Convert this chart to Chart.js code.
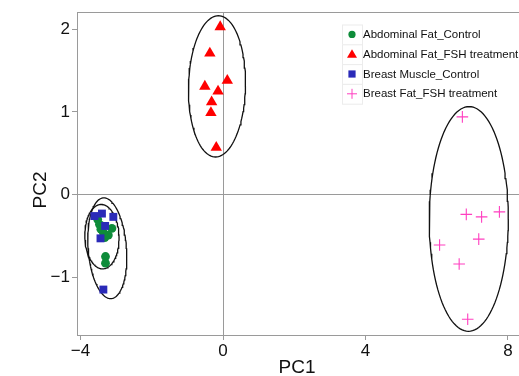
<!DOCTYPE html>
<html>
<head>
<meta charset="utf-8">
<script src="https://cdn.jsdelivr.net/npm/chart.js@4/dist/chart.umd.min.js"></script>
<style>
  html, body { margin:0; padding:0; background:#fff; }
  #wrap { width:519px; height:376px; }
</style>
</head>
<body>
<div id="wrap"><canvas id="pca" width="519" height="376"></canvas></div>
<script>
'use strict';
// ── PCA scatter: PC1 vs PC2 with group ellipses ─────────

const groupNames  = ['Abdominal Fat_Control', 'Abdominal Fat_FSH treatment', 'Breast Muscle_Control', 'Breast Fat_FSH treatment'];
const groupColors = ['#0e8c3a', '#ff0000', '#2a2ab8', '#ff3fc0'];
const groupShapes = ['circle', 'triangle', 'rect', 'cross'];

// points per group: [PC1, PC2]
const abdFatControl = [[-3.52,-0.30],[-3.47,-0.36],[-3.43,-0.42],[-3.36,-0.46],[-3.12,-0.41],[-3.22,-0.49],[-3.32,-0.52],[-3.30,-0.75],[-3.30,-0.83]];
const abdFatFSH     = [[-0.08,2.03],[-0.37,1.71],[0.12,1.38],[-0.51,1.31],[-0.14,1.25],[-0.32,1.12],[-0.34,0.99],[-0.19,0.57]];
const breastMuscle  = [[-3.61,-0.26],[-3.40,-0.23],[-3.08,-0.27],[-3.31,-0.38],[-3.44,-0.53],[-3.36,-1.15]];
const breastFatFSH  = [[6.72,0.94],[6.83,-0.24],[7.26,-0.27],[7.76,-0.21],[7.18,-0.54],[6.08,-0.61],[6.63,-0.84],[6.87,-1.51]];
const groupPoints   = [abdFatControl, abdFatFSH, breastMuscle, breastFatFSH];

// ellipse per group: centre, half-widths, skew of the long axis
const ellipseCenters = [[-3.40,-0.51],[-0.17,1.31],[-3.25,-0.65],[6.90,-0.295]];
const ellipseRadii   = [[0.48,0.39],[0.80,0.855],[0.54,0.61],[1.11,1.36]];
const ellipseSkew    = [0.02,-0.04,0.095,-0.01];

const xTicks = [-4, 0, 4, 8];
const yTicks = [-1, 0, 1, 2];
const xRange = [-4.10, 8.31];
const yRange = [-1.70, 2.21];

const FONT = "'Liberation Sans', Arial, sans-serif";
const AXIS_GREY = '#9a9a9a';

function ellipse(i) {
  const [cx, cy] = ellipseCenters[i], [rx, ry] = ellipseRadii[i], s = ellipseSkew[i];
  const pts = [];
  for (let k = 0; k <= 120; k++) {
    const t = k / 120 * Math.PI * 2;
    pts.push({ x: cx + rx * Math.cos(t) - s * Math.sin(t), y: cy + ry * Math.sin(t) });
  }
  return pts;
}

const pointSize = { circle:4.4, triangle:6.6, rect:5.6, cross:5.8 };

const datasets = [];
groupNames.forEach((name, i) => {
  datasets.push({
    label: name + ' ellipse', data: ellipse(i), showLine: true, pointRadius: 0,
    borderColor: '#111', borderWidth: 1.3, fill: false, tension: 0, order: 10,
  });
});
groupNames.forEach((name, i) => {
  const c = groupColors[i];
  datasets.push({
    label: name,
    data: groupPoints[i].map(([x, y]) => ({ x, y })),
    pointStyle: groupShapes[i],
    pointRadius: pointSize[groupShapes[i]],
    backgroundColor: c, borderColor: c,
    borderWidth: groupShapes[i] === 'cross' ? 1.1 : 0,
    order: 4 - i,
  });
});

// ── extras: top/bottom border to the edge, axis titles, legend ──
const extras = {
  id: 'extras',
  afterDraw(chart) {
    const { ctx, chartArea: a, width } = chart;
    ctx.save();
    ctx.strokeStyle = AXIS_GREY; ctx.lineWidth = 1;
    ctx.beginPath(); ctx.moveTo(a.left, a.top + 0.5); ctx.lineTo(width, a.top + 0.5); ctx.stroke();

    ctx.fillStyle = '#111';
    ctx.font = `19px ${FONT}`;
    ctx.textAlign = 'center'; ctx.textBaseline = 'middle';
    ctx.fillText('PC1', 297, 368);
    ctx.translate(41, 190); ctx.rotate(-Math.PI / 2);
    ctx.fillText('PC2', 0, 0);
    ctx.setTransform(1, 0, 0, 1, 0, 0);

    // legend
    const kx = 342, ky0 = 24.5, kh = 19.8;
    ctx.font = `11.5px ${FONT}`;
    ctx.textAlign = 'left';
    groupNames.forEach((name, i) => {
      const y = ky0 + i * kh;
      ctx.fillStyle = '#fff'; ctx.strokeStyle = '#ececec';
      ctx.fillRect(kx, y, 20, kh); ctx.strokeRect(kx + 0.5, y + 0.5, 20, kh);
      const cy = y + kh / 2, cx = kx + 10, c = groupColors[i];
      ctx.fillStyle = c; ctx.strokeStyle = c; ctx.lineWidth = 1;
      ctx.beginPath();
      if (groupShapes[i] === 'circle') { ctx.arc(cx, cy, 3.6, 0, Math.PI * 2); ctx.fill(); }
      else if (groupShapes[i] === 'triangle') { ctx.moveTo(cx, cy - 5); ctx.lineTo(cx + 5, cy + 3.5); ctx.lineTo(cx - 5, cy + 3.5); ctx.closePath(); ctx.fill(); }
      else if (groupShapes[i] === 'rect') { ctx.fillRect(cx - 3.6, cy - 3.6, 7.2, 7.2); }
      else { ctx.moveTo(cx - 5, cy); ctx.lineTo(cx + 5, cy); ctx.moveTo(cx, cy - 5); ctx.lineTo(cx, cy + 5); ctx.stroke(); }
      ctx.fillStyle = '#111';
      ctx.fillText(name, kx + 21, cy + 0.5);
    });
    ctx.restore();
  },
};

const tickFmt = v => String(v).replace('-', '\u2212');

new Chart(document.getElementById('pca'), {
  type: 'scatter',
  data: { datasets },
  plugins: [extras],
  options: {
    responsive: false, animation: false,
    layout: { autoPadding: false, padding: { top: 12, right: 0, left: 0, bottom: 0 } },
    plugins: { legend: { display: false }, tooltip: { enabled: false } },
    scales: {
      x: {
        type: 'linear', min: xRange[0], max: xRange[1],
        afterBuildTicks: s => { s.ticks = xTicks.map(v => ({ value: v })); },
        afterFit: s => { s.height = 41; s.paddingLeft = 0; s.paddingRight = 0; },
        ticks: { color: '#111', font: { family: FONT, size: 17 }, padding: 1, callback: tickFmt },
        grid: { color: c => c.tick && c.tick.value === 0 ? AXIS_GREY : 'transparent',
                tickColor: AXIS_GREY, tickLength: 5, lineWidth: 1 },
        border: { display: true, color: AXIS_GREY, width: 1 },
      },
      y: {
        type: 'linear', min: yRange[0], max: yRange[1],
        afterBuildTicks: s => { s.ticks = yTicks.map(v => ({ value: v })); },
        afterFit: s => { s.width = 77; s.paddingTop = 0; s.paddingBottom = 0; },
        ticks: { color: '#111', font: { family: FONT, size: 17 }, padding: 2, callback: tickFmt },
        grid: { color: c => c.tick && c.tick.value === 0 ? AXIS_GREY : 'transparent',
                tickColor: AXIS_GREY, tickLength: 5, lineWidth: 1 },
        border: { display: true, color: AXIS_GREY, width: 1 },
      },
    },
  },
});
</script>
</body>
</html>
